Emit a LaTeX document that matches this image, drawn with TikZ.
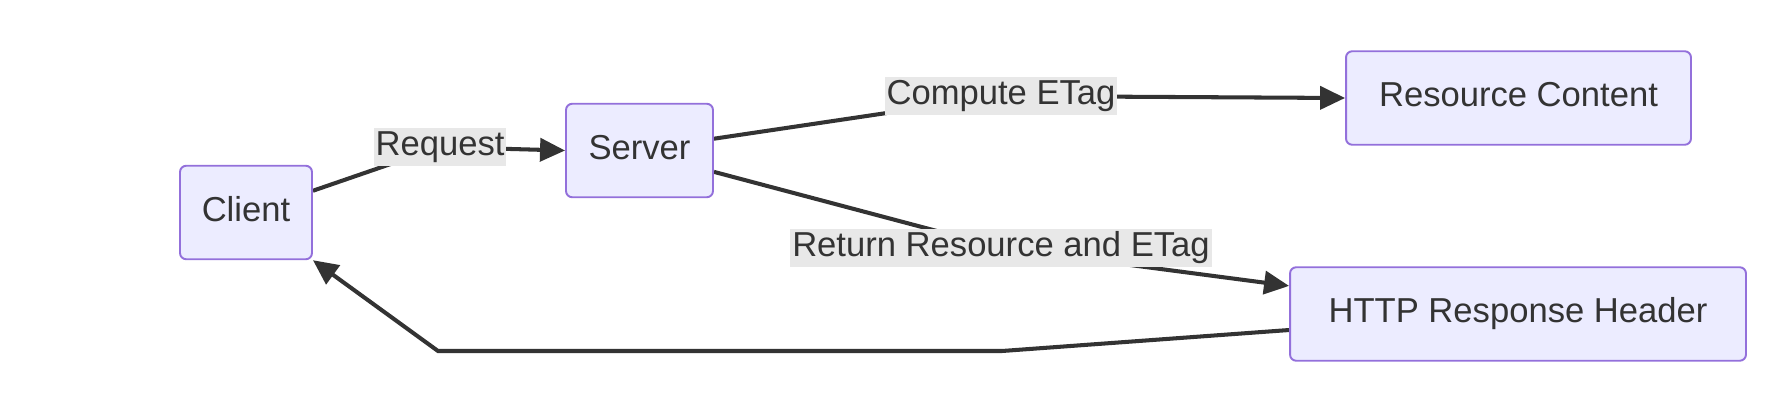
\documentclass[tikz,border=0pt]{standalone}
\usepackage{fontspec}
\setmainfont{Liberation Sans}
\usetikzlibrary{arrows.meta, positioning, backgrounds}
\definecolor{flowfill}{HTML}{ECECFF}
\definecolor{flowpurple}{HTML}{9370DB}
\definecolor{flowdark}{HTML}{333333}
\definecolor{flowlabel}{HTML}{E8E8E8}

\begin{document}
\begin{tikzpicture}[
  x=0.02cm, y=-0.02cm,
  every node/.style={font=\fontsize{19.7}{23}\selectfont, text=flowdark},
  flowbox/.style={rectangle, rounded corners=3.5pt, draw=flowpurple, fill=flowfill, line width=1.1pt, minimum width=#1, minimum height=1.87cm, text height=14.6pt, text depth=4.6pt},
  edgelabel/.style={fill=flowlabel, inner xsep=1pt, inner ysep=1pt, text height=14.6pt, text depth=4.6pt},
  flowedge/.style={draw=flowdark, line width=2.3pt, -{Triangle[length=0.5cm, width=0.46cm]}},
]
\useasboundingbox (0,0) rectangle (1786,410);

% Boxes
\node[flowbox=2.64cm] (client) at (246, 212.5) {Client};
\node[flowbox=2.94cm] (server) at (639.5, 150.5) {Server};
\node[flowbox=6.9cm] (content) at (1518.5, 98) {Resource Content};
\node[flowbox=9.12cm] (header) at (1518, 314) {HTTP Response Header};

% Edge labels
\node[edgelabel] (request) at (440, 147) {Request};
\node[edgelabel] (compute) at (1001, 96) {Compute ETag};
\node[edgelabel] (return) at (1001, 248) {Return Resource and ETag};

% Bends of the way back
\coordinate (backright) at (1002, 351);
\coordinate (backleft) at (438, 351);

% Connectors, behind the labels
\begin{scope}[on background layer]
\draw[flowedge] (client.18) -- (request.center) -- (server.west);
\draw[flowedge] (server.9) -- (compute.center) -- (content.west);
\draw[flowedge] (server.-16) -- (return.center) -- (header.173);
\draw[flowedge] (header.184) -- (backright) -- (backleft) -- (client.south east);
\end{scope}

\end{tikzpicture}
\end{document}
